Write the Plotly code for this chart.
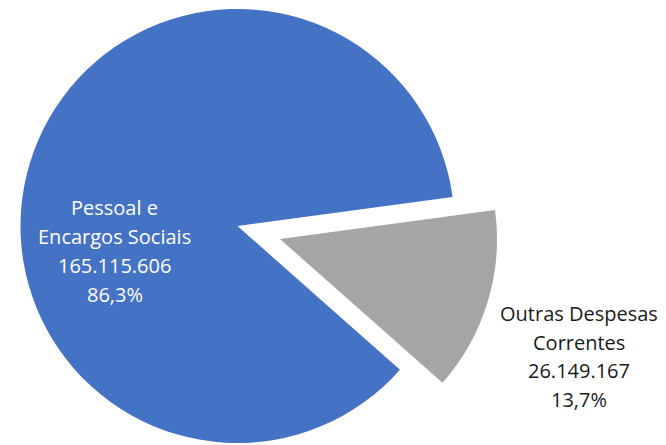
import plotly.graph_objects as go

# Data
category_lines = [["Pessoal e", "Encargos Sociais"], ["Outras Despesas", "Correntes"]]
values = [165115606, 26149167]
colors = ["#4472C4", "#A5A5A5"]
label_colors = ["#FFFFFF", "#1A1A1A"]

# The page body has an 8px margin; figure coords = page coords - 8
OFF = 8
W, H = 666, 460
total = sum(values)


def fmt_num(v):
    return f"{v:,}".replace(",", ".")


def fmt_pct(v):
    return f"{100 * v / total:.1f}".replace(".", ",") + "%"


# Geometry (page pixels)
r = 217
blue_c = (237, 226)
gray_c = (280, 239)
gray_frac = values[1] / total
rotation = 82.3 + gray_frac * 360  # blue starts at lower edge of gray slice, clockwise


def dom(c):
    cx, cy = c[0] - OFF, c[1] - OFF
    x0, x1 = cx - 230, cx + 230
    y0, y1 = cy - r, cy + r
    return dict(x=[max(0, x0) / W, min(W, x1) / W], y=[1 - y1 / H, 1 - y0 / H])


fig = go.Figure()
fig.add_trace(go.Pie(
    labels=["a", "b"], values=values, sort=False, direction="clockwise",
    rotation=rotation, marker=dict(colors=[colors[0], "rgba(0,0,0,0)"], line=dict(width=0)),
    textinfo="none", hoverinfo="skip", showlegend=False, domain=dom(blue_c),
))
fig.add_trace(go.Pie(
    labels=["a", "b"], values=values, sort=False, direction="clockwise",
    rotation=rotation, marker=dict(colors=["rgba(0,0,0,0)", colors[1]], line=dict(width=0)),
    textinfo="none", hoverinfo="skip", showlegend=False, domain=dom(gray_c),
))

# label line centres (page pixels)
label_x = [114.5, 579]
label_y0 = [207.5, 313.5]
line_gap = [29, 28.5]
for i, (lines, v) in enumerate(zip(category_lines, values)):
    all_lines = lines + [fmt_num(v), fmt_pct(v)]
    for j, t in enumerate(all_lines):
        x = label_x[i] - OFF
        y = label_y0[i] + j * line_gap[i] - OFF
        fig.add_annotation(
            x=x / W, y=1 - y / H, xref="paper", yref="paper", showarrow=False,
            xanchor="center", yanchor="middle", text=t,
            font=dict(family="Open Sans", size=20, color=label_colors[i]),
        )

fig.update_layout(
    width=W, height=H, margin=dict(l=0, r=0, t=0, b=0),
    paper_bgcolor="white", plot_bgcolor="white",
)
fig.write_html("out.html")
